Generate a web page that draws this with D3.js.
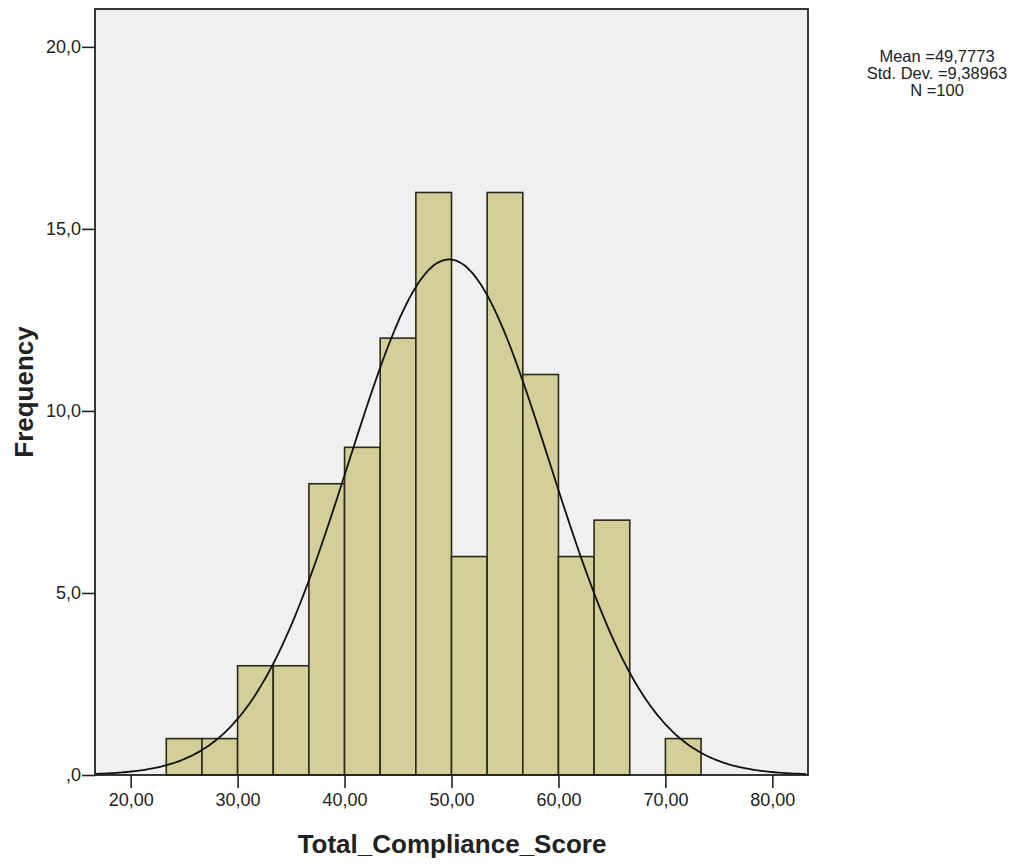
<!doctype html>
<html lang="en">
<head>
<meta charset="UTF-8">
<title>Total_Compliance_Score histogram</title>
<script src="https://cdn.jsdelivr.net/npm/d3@7"></script>
<style>
    body { margin: 0; background: #fff; }
    text { font-family: "Liberation Sans", Arial, sans-serif; fill: #222; }
</style>
</head>
<body>
<div id="chartDiv"></div>
<script>
// bins (lower edges), width 3.333
const binStarts = [23.333, 26.667, 30, 33.333, 36.667, 40, 43.333, 46.667, 50, 53.333, 56.667, 60, 63.333, 66.667, 70]
const binCounts = [1, 1, 3, 3, 8, 9, 12, 16, 6, 16, 11, 6, 7, 0, 1]
const binWidth = 3.3333

const xTicks = [20, 30, 40, 50, 60, 70, 80]
const yTicks = [0, 5, 10, 15, 20]

const stats = { mean: 49.7773, sd: 9.38963, n: 100 }
const statLines = ["Mean =49,7773", "Std. Dev. =9,38963", "N =100"]

const width = 1026, height = 866
const plot = { left: 95, right: 808, top: 9, bottom: 775 }

const svg = d3.select('#chartDiv').append('svg')
    .attr('width', width).attr('height', height)

const x = d3.scaleLinear().domain([16.667, 83.333]).range([plot.left, plot.right])
const y = d3.scaleLinear().domain([0, 21.04]).range([plot.bottom, plot.top])

// plot background
svg.append('rect')
    .attr('x', plot.left).attr('y', plot.top)
    .attr('width', plot.right - plot.left).attr('height', plot.bottom - plot.top)
    .attr('fill', '#f0f0f0')

// bars
svg.append('g').selectAll('rect')
    .data(binStarts.map((s, i) => ({ s, c: binCounts[i] })).filter(d => d.c > 0))
    .join('rect')
    .attr('x', d => x(d.s))
    .attr('y', d => y(d.c))
    .attr('width', d => x(d.s + binWidth) - x(d.s))
    .attr('height', d => y(0) - y(d.c))
    .attr('fill', '#d4cf98')
    .attr('stroke', '#2a2a1a')
    .attr('stroke-width', 1.6)

// normal curve scaled to counts
const pdf = v => Math.exp(-0.5 * ((v - stats.mean) / stats.sd) ** 2) / (stats.sd * Math.sqrt(2 * Math.PI))
const curvePts = d3.range(x.domain()[0], x.domain()[1] + 0.01, 0.25)
svg.append('path')
    .datum(curvePts)
    .attr('fill', 'none')
    .attr('stroke', '#111')
    .attr('stroke-width', 1.8)
    .attr('d', d3.line().x(v => x(v)).y(v => y(stats.n * binWidth * pdf(v))).curve(d3.curveBasis))

// frame
svg.append('rect')
    .attr('x', plot.left).attr('y', plot.top)
    .attr('width', plot.right - plot.left).attr('height', plot.bottom - plot.top)
    .attr('fill', 'none').attr('stroke', '#222').attr('stroke-width', 1.8)

const fmt = d => d.toFixed(2).replace('.', ',')
const fmtY = d => d === 0 ? ',0' : d.toFixed(1).replace('.', ',')

// x axis
const xAxis = svg.append('g')
    .attr('transform', `translate(0,${plot.bottom})`)
    .call(d3.axisBottom(x).tickValues(xTicks).tickFormat(fmt).tickSize(13).tickPadding(5))
xAxis.select('.domain').remove()
xAxis.selectAll('line').attr('stroke', '#222').attr('stroke-width', 1.6)
xAxis.selectAll('text').attr('font-size', 18).attr('fill', '#222')

// y axis
const yAxis = svg.append('g')
    .attr('transform', `translate(${plot.left},0)`)
    .call(d3.axisLeft(y).tickValues(yTicks).tickFormat(fmtY).tickSize(13).tickPadding(1))
yAxis.select('.domain').remove()
yAxis.selectAll('line').attr('stroke', '#222').attr('stroke-width', 1.6)
yAxis.selectAll('text').attr('font-size', 18).attr('fill', '#222')

// axis titles
svg.append('text')
    .attr('x', 452).attr('y', 853)
    .attr('text-anchor', 'middle')
    .attr('font-size', 26).attr('font-weight', 'bold')
    .attr('fill', '#111')
    .text('Total_Compliance_Score')

svg.append('text')
    .attr('transform', 'translate(33,392) rotate(-90)')
    .attr('text-anchor', 'middle')
    .attr('font-size', 26).attr('font-weight', 'bold')
    .attr('fill', '#111')
    .text('Frequency')

// stats box
svg.append('g').selectAll('text')
    .data(statLines)
    .join('text')
    .attr('x', 937)
    .attr('y', (d, i) => 62 + i * 17)
    .attr('text-anchor', 'middle')
    .attr('font-size', 16.5)
    .text(d => d)
</script>
</body>
</html>
